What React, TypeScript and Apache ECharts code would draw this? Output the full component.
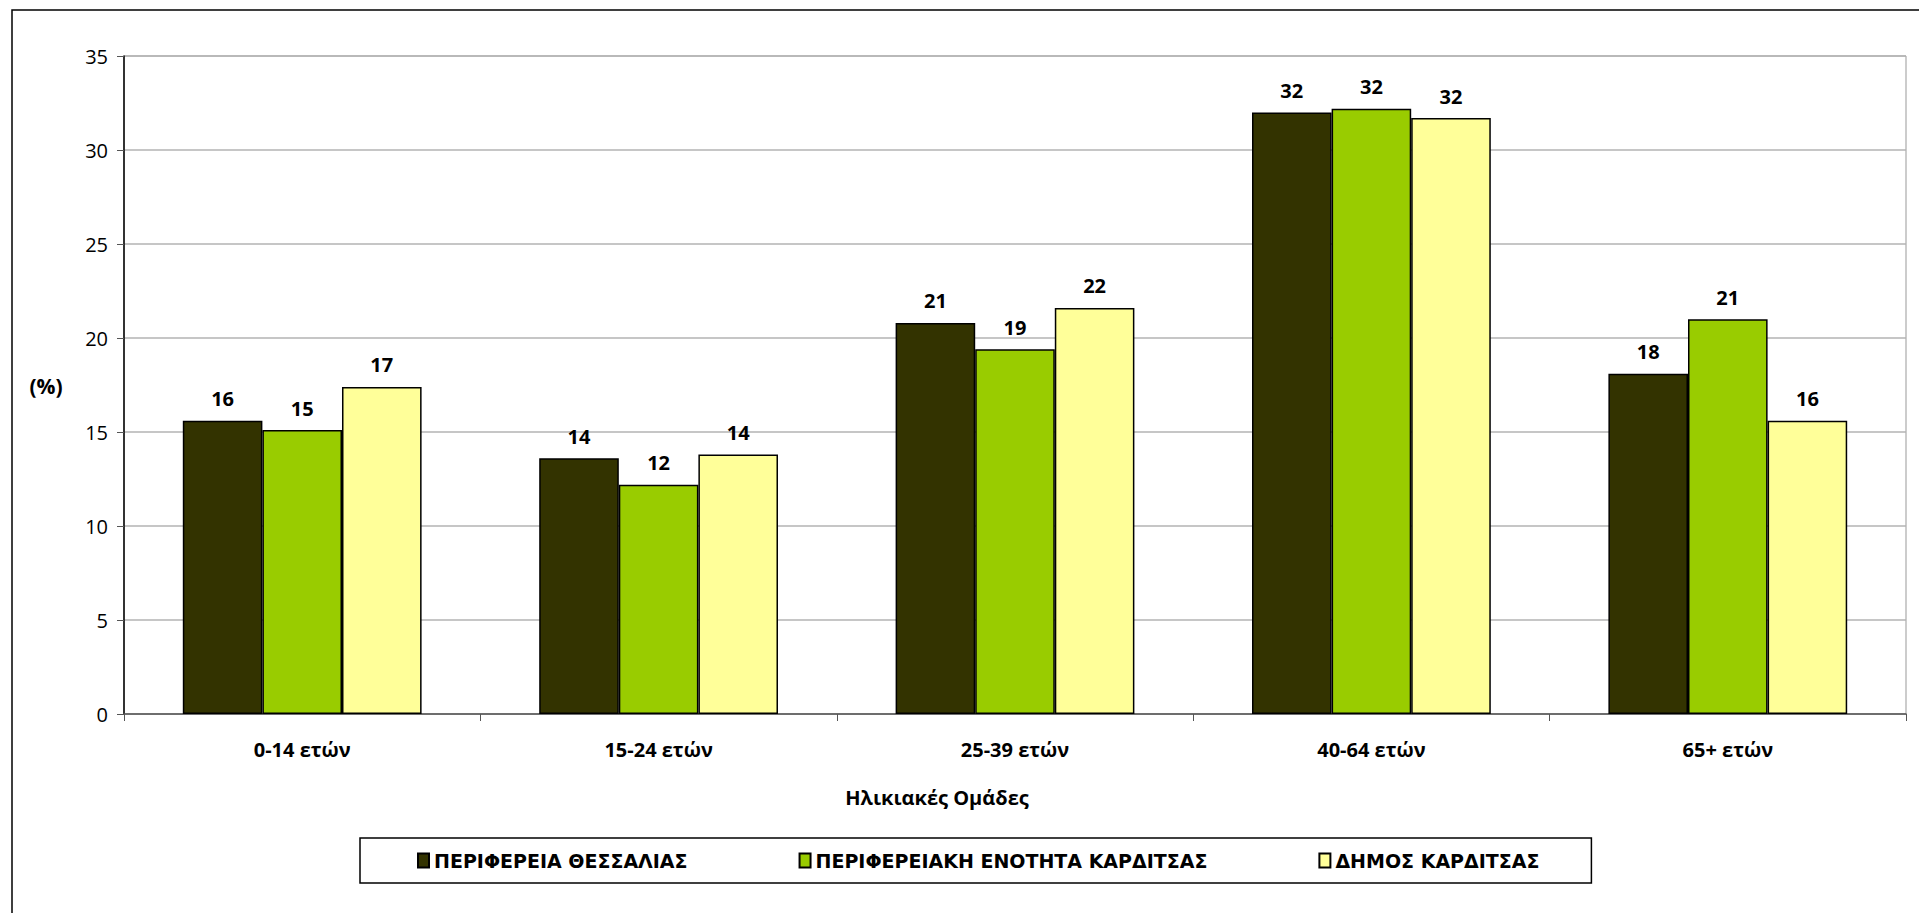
import React, { useEffect, useRef } from "react";
import * as echarts from "echarts";

const categories = ["0-14 ετών", "15-24 ετών", "25-39 ετών", "40-64 ετών", "65+ ετών"];
const seriesNames = ["ΠΕΡΙΦΕΡΕΙΑ ΘΕΣΣΑΛΙΑΣ", "ΠΕΡΙΦΕΡΕΙΑΚΗ ΕΝΟΤΗΤΑ ΚΑΡΔΙΤΣΑΣ", "ΔΗΜΟΣ ΚΑΡΔΙΤΣΑΣ"];
const thessalia = [15.6, 13.6, 20.8, 32.0, 18.1];
const peKarditsas = [15.1, 12.2, 19.4, 32.2, 21.0];
const dimosKarditsas = [17.4, 13.8, 21.6, 31.7, 15.6];
const colors = ["#333300", "#99CC00", "#FFFF99"];
const yTicks = [0, 5, 10, 15, 20, 25, 30, 35];

const FONT = "'Open Sans', 'DejaVu Sans', sans-serif";
const LEGEND_FONT = "'DejaVu Sans', sans-serif";

export default function App() {
  const ref = useRef<HTMLDivElement>(null);
  useEffect(() => {
    if (!ref.current) return;
    const chart = echarts.init(ref.current, undefined, { renderer: "svg" });
    const values = [thessalia, peKarditsas, dimosKarditsas];
    chart.setOption({
      animation: false,
      backgroundColor: "#ffffff",
      textStyle: { fontFamily: FONT },
      grid: {
        left: 124,
        top: 56,
        right: 13,
        bottom: 199,
        show: true,
        borderColor: "#999999",
        borderWidth: 1,
      },
      xAxis: {
        type: "category",
        data: categories,
        axisLine: { lineStyle: { color: "#555555", width: 1.5 } },
        axisTick: { show: true, length: 7, lineStyle: { color: "#555555" } },
        axisLabel: { fontSize: 20, fontWeight: "bold", color: "#000", margin: 25, fontFamily: FONT },
      },
      yAxis: {
        type: "value",
        min: yTicks[0],
        max: yTicks[yTicks.length - 1],
        interval: 5,
        axisLine: { show: true, lineStyle: { color: "#000", width: 1.5 } },
        axisTick: { show: true, length: 7, lineStyle: { color: "#555555" } },
        axisLabel: { fontSize: 20, color: "#000", margin: 16, fontFamily: FONT },
        splitLine: { lineStyle: { color: "#b3b3b3", width: 1.5 } },
      },
      legend: {
        left: 360,
        top: 838,
        padding: [13, 52, 13, 57],
        itemGap: 111,
        itemWidth: 11,
        itemHeight: 14,
        borderColor: "#000",
        borderWidth: 1.5,
        icon: "rect",
        textStyle: { fontSize: 19, fontWeight: "bold", color: "#000", fontFamily: LEGEND_FONT },
        data: seriesNames,
      },
      series: seriesNames.map((name, i) => ({
        name,
        type: "bar",
        data: values[i],
        barGap: "0%",
        barCategoryGap: "33%",
        itemStyle: { color: colors[i], borderColor: "#000", borderWidth: 1.5 },
        label: {
          show: true,
          position: "top",
          distance: 12,
          fontSize: 20,
          fontWeight: "bold",
          color: "#000",
          fontFamily: FONT,
          formatter: (p: any) => Math.round(p.value).toString(),
        },
      })),
      graphic: [
        {
          type: "rect",
          shape: { x: 12, y: 10, width: 2000, height: 1000 },
          style: { fill: "none", stroke: "#000", lineWidth: 1.5 },
          silent: true,
        },
        {
          type: "text",
          x: 46,
          y: 386,
          style: {
            text: "(%)",
            fontSize: 21,
            fontWeight: "bold",
            fill: "#000",
            fontFamily: FONT,
            align: "center",
            verticalAlign: "middle",
          },
        },
        {
          type: "text",
          x: 937,
          y: 797,
          style: {
            text: "Ηλικιακές Ομάδες",
            fontSize: 20,
            fontWeight: "bold",
            fill: "#000",
            fontFamily: FONT,
            align: "center",
            verticalAlign: "middle",
          },
        },
      ],
    });
    return () => chart.dispose();
  }, []);
  return <div ref={ref} style={{ position: "fixed", left: 0, top: 0, width: 1919, height: 913 }} />;
}
